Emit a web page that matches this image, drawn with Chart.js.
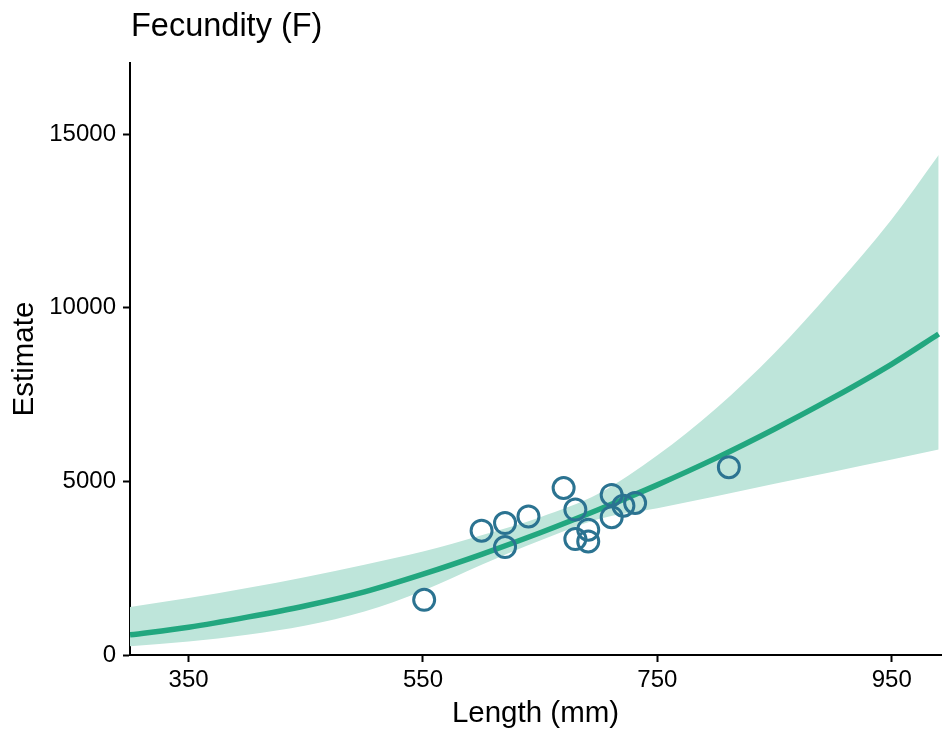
<!DOCTYPE html>
<html>
<head>
<meta charset="utf-8">
<script src="https://cdn.jsdelivr.net/npm/chart.js@4.4.1/dist/chart.umd.min.js"></script>
<style>
  html, body { margin: 0; padding: 0; background: #fff; overflow: hidden; }
  #wrap { position: relative; width: 944px; height: 729px; }
  #fec-chart { display: block; }
</style>
</head>
<body>
<div id="wrap"><canvas id="fec-chart"></canvas></div>
<script>
// Fecundity (F): fitted curve with confidence band, plus observed points

const lengths = [300, 350, 400, 450, 500, 550, 600, 650, 700, 750, 800, 850, 900, 950, 990];
const fitted  = [580, 800, 1090, 1420, 1820, 2330, 2900, 3520, 4190, 4900, 5670, 6510, 7410, 8380, 9245];
const upper   = [1380, 1640, 1930, 2250, 2600, 2980, 3450, 3970, 4650, 5750, 7100, 8700, 10550, 12550, 14400];
const lower   = [250, 390, 585, 850, 1250, 1850, 2600, 3300, 3920, 4230, 4570, 4930, 5280, 5630, 5920];

const obsLength = [551, 600, 620, 620, 640, 670, 680, 680, 691, 691, 711, 711, 721, 731, 811];
const obsFec    = [1590, 3580, 3800, 3110, 3990, 4810, 4190, 3340, 3610, 3270, 4610, 3970, 4300, 4380, 5410];

const xTicks = [350, 550, 750, 950];
const yTicks = [0, 5000, 10000, 15000];

function pairs(xs, ys) {
    return xs.map(function (x, i) { return { x: x, y: ys[i] }; });
}

const fontFamily = '"Liberation Sans", Arial, Helvetica, sans-serif';

const plotTitle = {
    id: 'plotTitle',
    afterDraw: function (chart) {
        const ctx = chart.ctx;
        ctx.save();
        ctx.font = '32.5px ' + fontFamily;
        ctx.fillStyle = '#000';
        ctx.textAlign = 'left';
        ctx.textBaseline = 'middle';
        ctx.fillText('Fecundity (F)', chart.chartArea.left + 1, 27);
        ctx.restore();
    }
};

new Chart(document.getElementById('fec-chart'), {
    type: 'line',
    data: {
        datasets: [
            {
                label: 'lower',
                data: pairs(lengths, lower),
                borderWidth: 0,
                pointRadius: 0,
                fill: false,
                cubicInterpolationMode: 'monotone',
                order: 3
            },
            {
                label: 'upper',
                data: pairs(lengths, upper),
                borderWidth: 0,
                pointRadius: 0,
                fill: '-1',
                backgroundColor: '#bee5da',
                cubicInterpolationMode: 'monotone',
                order: 3
            },
            {
                label: 'fit',
                data: pairs(lengths, fitted),
                borderColor: '#22a77f',
                borderWidth: 5.5,
                pointRadius: 0,
                fill: false,
                cubicInterpolationMode: 'monotone',
                order: 2
            },
            {
                label: 'observed',
                type: 'scatter',
                data: pairs(obsLength, obsFec),
                showLine: false,
                pointRadius: 10.5,
                pointBorderWidth: 3,
                pointBorderColor: '#2b7391',
                pointBackgroundColor: 'rgba(0,0,0,0)',
                order: 1
            }
        ]
    },
    options: {
        responsive: true,
        maintainAspectRatio: false,
        animation: false,
        layout: { autoPadding: false, padding: { top: 63, right: 3, left: 0, bottom: 0 } },
        plugins: {
            legend: { display: false },
            tooltip: { enabled: false }
        },
        scales: {
            x: {
                type: 'linear',
                min: 300,
                max: 992,
                afterBuildTicks: function (scale) {
                    scale.ticks = xTicks.map(function (v) { return { value: v }; });
                },
                afterFit: function (scale) {
                    scale.height = 74;
                    scale.paddingLeft = 0;
                    scale.paddingRight = 0;
                },
                grid: { drawOnChartArea: false, drawTicks: true, tickLength: 7, tickWidth: 2, color: '#000' },
                border: { display: true, color: '#000', width: 2 },
                ticks: {
                    color: '#000',
                    padding: 4,
                    font: { family: fontFamily, size: 24 },
                    callback: function (v) { return String(v); }
                },
                title: {
                    display: true,
                    text: 'Length (mm)',
                    color: '#000',
                    padding: { top: 0, bottom: -3 },
                    font: { family: fontFamily, size: 29.5 }
                }
            },
            y: {
                type: 'linear',
                min: 0,
                max: 17050,
                afterBuildTicks: function (scale) {
                    scale.ticks = yTicks.map(function (v) { return { value: v }; });
                },
                afterFit: function (scale) {
                    scale.width = 130;
                    scale.paddingTop = 0;
                    scale.paddingBottom = 0;
                },
                grid: { drawOnChartArea: false, drawTicks: true, tickLength: 7, tickWidth: 2, color: '#000' },
                border: { display: true, color: '#000', width: 2 },
                ticks: {
                    color: '#000',
                    padding: 7,
                    font: { family: fontFamily, size: 24 },
                    callback: function (v) { return String(v); }
                },
                title: {
                    display: true,
                    text: 'Estimate',
                    color: '#000',
                    padding: { top: 7, bottom: 0 },
                    font: { family: fontFamily, size: 29.5 }
                }
            }
        }
    },
    plugins: [plotTitle]
});
</script>
</body>
</html>
